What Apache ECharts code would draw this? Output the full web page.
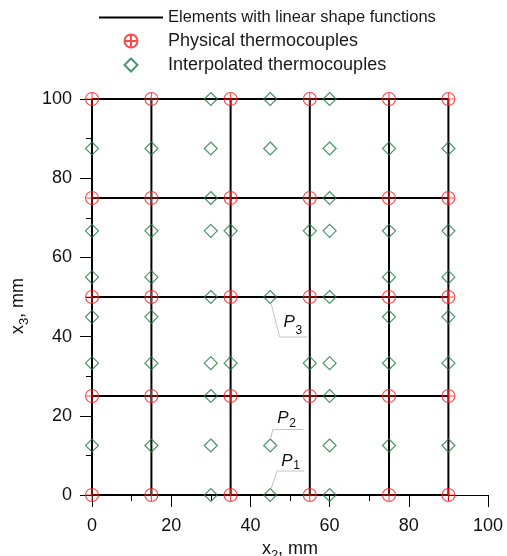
<!DOCTYPE html>
<html><head><meta charset="utf-8">
<script src="https://cdn.jsdelivr.net/npm/echarts@6/dist/echarts.min.js"></script>
<style>html,body{margin:0;padding:0;background:#fff}#c{width:507px;height:556px}</style>
</head><body><div id="c"></div>
<script>
// ---------- data ----------
const elementX = [0, 15, 35, 55, 75, 90];          // element boundaries along x2
const elementY = [0, 25, 50, 75, 100];             // element boundaries along x3
const physicalX = [0, 15, 35, 55, 75, 90];         // physical thermocouple columns
const physicalY = [0, 25, 50, 75, 100];            // physical thermocouple rows
const interpolatedPoints = [
  [30,100],[45,100],[60,100],
  [0,87.5],[15,87.5],[30,87.5],[45,87.5],[60,87.5],[75,87.5],[90,87.5],
  [30,75],[60,75],
  [0,66.7],[15,66.7],[30,66.7],[35,66.7],[55,66.7],[60,66.7],[75,66.7],[90,66.7],
  [0,55],[15,55],[75,55],[90,55],
  [30,50],[45,50],[60,50],
  [0,45],[15,45],[75,45],[90,45],
  [0,33.3],[15,33.3],[30,33.3],[35,33.3],[55,33.3],[60,33.3],[75,33.3],[90,33.3],
  [30,25],[60,25],
  [0,12.5],[15,12.5],[30,12.5],[45,12.5],[60,12.5],[75,12.5],[90,12.5],
  [30,0],[45,0],[60,0]
];
const annotationSubs = ['1', '2', '3'];
const annotationPoints = [[45, 0], [45, 12.5], [45, 50]];
const seriesNames = ['Elements with linear shape functions', 'Physical thermocouples', 'Interpolated thermocouples'];

// ---------- style ----------
const FONT = '"Liberation Sans", Arial, Helvetica, sans-serif';
const RED = '#ff1a1a';
const GREEN = '#1f7a45';
const circlePlus = 'path://M0,-10A10,10,0,1,1,0,10A10,10,0,1,1,0,-10ZM-10,0L10,0M0,-10L0,10';
const diamondPath = 'path://M0,-10L10,0L0,10L-10,0Z';

const physicalData = [];
physicalY.forEach(y => physicalX.forEach(x => physicalData.push([x, y])));

const series = [];
const yMin = elementY[0], yMax = elementY[elementY.length - 1];
const xMin = elementX[0], xMax = elementX[elementX.length - 1];
elementX.forEach(x => series.push({
  name: seriesNames[0], type: 'line', data: [[x, yMin], [x, yMax]],
  symbol: 'none', showSymbol: false, clip: false, z: 3,
  lineStyle: { color: '#000', width: 2 }, itemStyle: { color: '#000' }
}));
elementY.forEach(y => series.push({
  name: seriesNames[0], type: 'line', data: [[xMin, y], [xMax, y]],
  symbol: 'none', showSymbol: false, clip: false, z: 3,
  lineStyle: { color: '#000', width: 2 }, itemStyle: { color: '#000' }
}));
series.push({
  name: seriesNames[1], type: 'scatter', data: physicalData, z: 5,
  symbol: circlePlus, symbolSize: 13, symbolKeepAspect: true,
  itemStyle: { color: 'transparent', borderColor: RED, borderWidth: 1.1 }
});
series.push({
  name: seriesNames[2], type: 'scatter', data: interpolatedPoints, z: 6,
  symbol: diamondPath, symbolSize: 13, symbolKeepAspect: true,
  itemStyle: { color: 'transparent', borderColor: GREEN, borderWidth: 1.2 }
});

function makeAxis(labelMargin) {
  return {
    type: 'value', min: 0, max: 100, interval: 20,
    axisLine: { show: true, onZero: false, lineStyle: { color: '#000', width: 1 } },
    axisTick: { show: true, inside: false, length: 12, lineStyle: { color: '#000', width: 1 } },
    minorTick: { show: true, splitNumber: 2, length: 6, lineStyle: { color: '#000', width: 1 } },
    splitLine: { show: false },
    minorSplitLine: { show: false },
    axisLabel: { fontFamily: FONT, fontSize: 18, color: '#111', margin: labelMargin },
    nameLocation: 'middle'
  };
}
const nameRich = {
  a: { fontFamily: FONT, fontSize: 18, lineHeight: 26, color: '#111' },
  s: { fontFamily: FONT, fontSize: 13, lineHeight: 13, verticalAlign: 'bottom', color: '#111' }
};

const option = {
  animation: false,
  backgroundColor: '#fff',
  grid: { left: 92, right: 19, top: 99, bottom: 61, containLabel: false, outerBoundsMode: 'none' },
  legend: {
    orient: 'vertical', left: 93, top: 4, itemGap: 6,
    itemWidth: 64, itemHeight: 13, symbolKeepAspect: true,
    textStyle: { fontFamily: FONT, fontSize: 18, color: '#1a1a1a' },
    data: [
      { name: seriesNames[0], textStyle: { fontSize: 16.5 }, itemStyle: { opacity: 0 } },
      { name: seriesNames[1] },
      { name: seriesNames[2] }
    ],
    selectedMode: false
  },
  xAxis: Object.assign(makeAxis(22), {
    name: '{a|x}{s|2}{a|, mm}', nameGap: 40,
    nameTextStyle: { fontFamily: FONT, color: '#111', rich: nameRich }
  }),
  yAxis: Object.assign(makeAxis(20), {
    name: '{a|x}{s|3}{a|, mm}', nameGap: 52,
    nameTextStyle: { fontFamily: FONT, color: '#111', padding: [0, 18, 0, 0], rich: nameRich }
  }),
  series: series
};

const chart = echarts.init(document.getElementById('c'), null, { renderer: 'canvas' });
chart.setOption(option);

// ---------- annotations (leader lines + labels) ----------
const leaderOffsets = [
  [[1, -6.5], [7, -24], [34, -24]],
  [[0.5, -7], [2.5, -16], [33, -16]],
  [[1, 7], [9.5, 40], [37, 40]]
];
const labelOffsets = [[11, -28.3], [7, -21.7], [13.3, 31.3]];
const subDrop = [3.5, 4.5, 6.5];
const graphics = [];
annotationPoints.forEach((pt, i) => {
  const a = chart.convertToPixel({ gridIndex: 0 }, pt);
  graphics.push({
    type: 'polyline', z: 10, silent: true,
    shape: { points: leaderOffsets[i].map(o => [a[0] + o[0], a[1] + o[1]]) },
    style: { stroke: '#c4c4c4', lineWidth: 1, fill: null }
  });
  const px = a[0] + labelOffsets[i][0], base = a[1] + labelOffsets[i][1];
  graphics.push({
    type: 'text', z: 11, silent: true, x: px, y: base - 0.3465 * 17,
    style: { text: 'P', fontFamily: FONT, fontSize: 17, fontStyle: 'italic', fill: '#111', align: 'left', verticalAlign: 'middle' }
  });
  graphics.push({
    type: 'text', z: 11, silent: true, x: px + 12, y: base + subDrop[i] - 0.3465 * 12,
    style: { text: annotationSubs[i], fontFamily: FONT, fontSize: 12, fill: '#111', align: 'left', verticalAlign: 'middle' }
  });
});
chart.setOption({ graphic: graphics });
</script>
</body></html>
